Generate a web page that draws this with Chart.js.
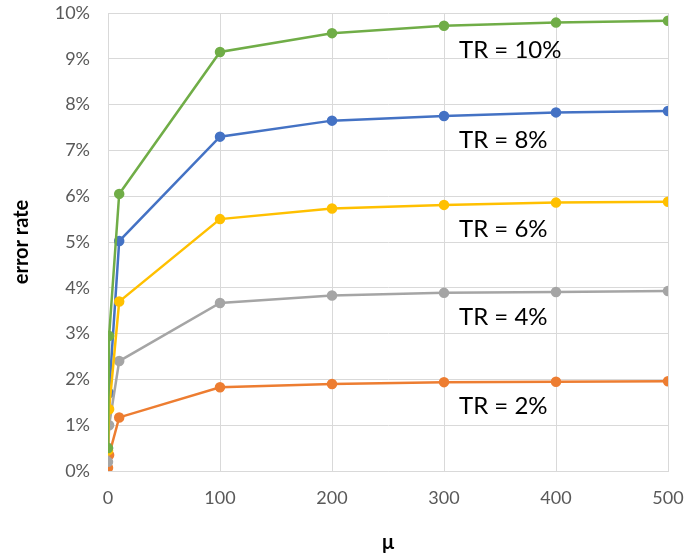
<!DOCTYPE html>
<html>
<head>
<meta charset="utf-8">
<script src="https://cdn.jsdelivr.net/npm/chart.js@4"></script>
<style>
    html, body { margin: 0; padding: 0; background: #fff; }
    #wrap { width: 685px; height: 559px; }
</style>
</head>
<body>
<div id="wrap"><canvas id="errChart"></canvas></div>
<script>
// mu values on the x axis
const muValues = [0, 1, 10, 100, 200, 300, 400, 500];
// error rate in percent for each TR
const tr2 = [0.07, 0.35, 1.17, 1.83, 1.90, 1.94, 1.95, 1.96];
const tr4 = [0.2, 1.0, 2.4, 3.67, 3.83, 3.89, 3.91, 3.93];
const tr6 = [0.45, 1.35, 3.7, 5.5, 5.73, 5.81, 5.86, 5.88];
const tr8 = [0.5, 1.7, 5.02, 7.3, 7.65, 7.75, 7.83, 7.86];
const tr10 = [0.5, 2.95, 6.05, 9.15, 9.56, 9.72, 9.79, 9.83];
const seriesNames = ['TR = 2%', 'TR = 4%', 'TR = 6%', 'TR = 8%', 'TR = 10%'];
const xTicks = [0, 100, 200, 300, 400, 500];
const yTicks = [0, 1, 2, 3, 4, 5, 6, 7, 8, 9, 10];

const colors = ['#ED7D31', '#A5A5A5', '#FFC000', '#4472C4', '#70AD47'];
const drawOrder = [3, 2, 1, 4, 0];
const FONT = 'Lato, "Open Sans", sans-serif';

function toPoints(vals) {
    return muValues.map((m, i) => ({ x: m, y: vals[i] }));
}

const datasets = [tr2, tr4, tr6, tr8, tr10].map((vals, i) => ({
    label: seriesNames[i],
    data: toPoints(vals),
    borderColor: colors[i],
    backgroundColor: colors[i],
    borderWidth: 2.5,
    pointRadius: 4,
    pointHoverRadius: 4,
    order: drawOrder[i]
}));

// text labels next to each curve, placed under the point at mu = 300
const curveLabels = {
    id: 'curveLabels',
    afterDatasetsDraw(chart) {
        const ctx = chart.ctx;
        const xs = chart.scales.x, ys = chart.scales.y;
        ctx.save();
        ctx.font = '24px ' + FONT;
        ctx.fillStyle = '#000';
        ctx.textAlign = 'left';
        ctx.textBaseline = 'middle';
        chart.data.datasets.forEach(ds => {
            const p = ds.data[5];
            ctx.fillText(ds.label, xs.getPixelForValue(p.x) + 15, ys.getPixelForValue(p.y) + 24);
        });
        ctx.restore();
    }
};

new Chart(document.getElementById('errChart'), {
    type: 'line',
    data: { datasets },
    options: {
        responsive: true,
        maintainAspectRatio: false,
        animation: false,
        layout: { padding: { top: 13, right: 17, left: 0, bottom: 0 } },
        plugins: { legend: { display: false }, tooltip: { enabled: false } },
        scales: {
            x: {
                type: 'linear',
                min: 0,
                max: 500,
                afterBuildTicks: s => { s.ticks = xTicks.map(v => ({ value: v })); },
                afterFit: s => { s.height = 88; s.paddingLeft = 0; s.paddingRight = 0; },
                grid: { color: '#D9D9D9', drawTicks: false },
                border: { color: '#D9D9D9' },
                ticks: { padding: 16, color: '#595959', font: { family: FONT, size: 18 } },
                title: {
                    display: true,
                    text: 'μ',
                    color: '#000',
                    font: { family: FONT, size: 20, weight: 'bold' },
                    padding: { top: 10 }
                }
            },
            y: {
                min: 0,
                max: 10,
                afterBuildTicks: s => { s.ticks = yTicks.map(v => ({ value: v })); },
                afterFit: s => { s.width = 108; s.paddingTop = 0; s.paddingBottom = 0; },
                grid: { color: '#D9D9D9', drawTicks: false },
                border: { color: '#D9D9D9' },
                ticks: {
                    padding: 18,
                    color: '#595959',
                    font: { family: FONT, size: 18 },
                    callback: v => v + '%'
                },
                title: {
                    display: true,
                    text: 'error rate',
                    color: '#000',
                    font: { family: FONT, size: 20, weight: 'bold' },
                    padding: { top: 10, bottom: 0 }
                }
            }
        }
    },
    plugins: [curveLabels]
});
</script>
</body>
</html>
